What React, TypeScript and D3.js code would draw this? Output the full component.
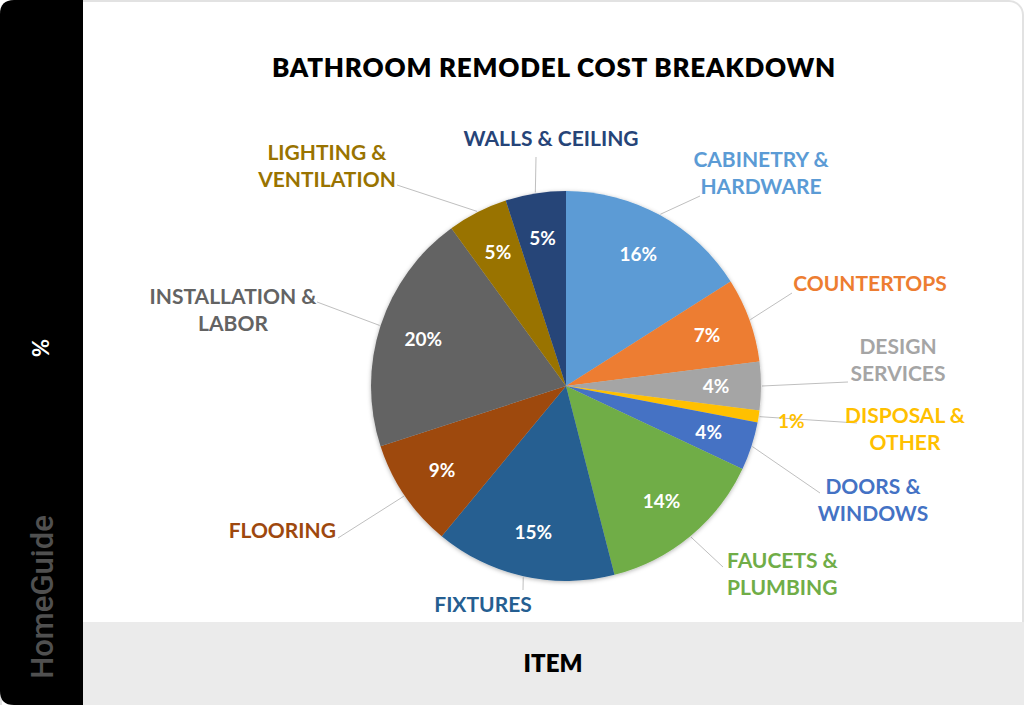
import React from 'react'
import * as d3 from 'd3'

// Chart data
const categories = [
  'CABINETRY &\nHARDWARE',
  'COUNTERTOPS',
  'DESIGN\nSERVICES',
  'DISPOSAL &\nOTHER',
  'DOORS &\nWINDOWS',
  'FAUCETS &\nPLUMBING',
  'FIXTURES',
  'FLOORING',
  'INSTALLATION &\nLABOR',
  'LIGHTING &\nVENTILATION',
  'WALLS & CEILING'
]
const shares = [16, 7, 4, 1, 4, 14, 15, 9, 20, 5, 5]
const colors = [
  '#5B9BD5', '#ED7D31', '#A5A5A5', '#FFC000', '#4472C4', '#70AD47',
  '#255E91', '#9E480E', '#636363', '#997300', '#264478'
]

// Label layout: text anchor point (first baseline), leader end
const labelLayout = [
  { x: 761, y: 167, anchor: 'middle', end: [700, 196] },
  { x: 870, y: 291, anchor: 'middle', end: [792, 293] },
  { x: 898, y: 354, anchor: 'middle', end: [848, 382] },
  { x: 905, y: 423, anchor: 'middle', end: [857, 423] },
  { x: 873, y: 494, anchor: 'middle', end: [820, 493] },
  { x: 727, y: 568, anchor: 'start', end: [723, 567] },
  { x: 483, y: 612, anchor: 'middle', end: [523, 590] },
  { x: 336, y: 538, anchor: 'end', end: [338, 538] },
  { x: 233, y: 304, anchor: 'middle', end: [317, 302] },
  { x: 327, y: 160, anchor: 'middle', end: [397, 185] },
  { x: 551, y: 146, anchor: 'middle', end: [536, 157] }
]

const W = 1024
const H = 705
const cx = 566
const cy = 386
const R = 195
const FONT = 'Lato, "Noto Sans", sans-serif'

export default function App() {
  const pie = d3.pie<number>().sort(null).value(d => d)
  const arcs = pie(shares)
  const arc = d3.arc<d3.PieArcDatum<number>>().innerRadius(0).outerRadius(R)
  const edgeArc = d3.arc<d3.PieArcDatum<number>>().innerRadius(R + 1).outerRadius(R + 1)
  const innerLabelArc = d3.arc<d3.PieArcDatum<number>>().innerRadius(150).outerRadius(150)
  const outerLabelArc = d3.arc<d3.PieArcDatum<number>>().innerRadius(228).outerRadius(228)

  return (
    <svg
      width={W}
      height={H}
      style={{ position: 'absolute', left: 0, top: 0, fontFamily: FONT }}
    >
      <defs>
        <filter id="pieShadow" x="-10%" y="-10%" width="120%" height="120%">
          <feDropShadow dx="0" dy="1" stdDeviation="2" floodColor="#000" floodOpacity="0.3" />
        </filter>
      </defs>

      {/* card */}
      <rect x={0} y={0} width={W} height={H} fill="#ffffff" />
      <rect x={1} y={1} width={W - 2} height={H + 20} rx={14} fill="#ffffff" stroke="#e2e2e2" strokeWidth={2} />
      <rect x={83} y={622} width={W - 83} height={H - 622} fill="#ebebeb" />
      <path d={`M83,0 H14 Q0,0 0,14 V${H - 14} Q0,${H} 14,${H} H83 Z`} fill="#000000" />

      <text
        transform="translate(49,348) rotate(-90)"
        textAnchor="middle"
        fill="#ffffff"
        fontSize={22}
        fontWeight={700}
      >
        %
      </text>
      <text
        transform="translate(53,597) rotate(-90)"
        textAnchor="middle"
        fill="#505050"
        fontSize={31}
        fontWeight={500}
        fontFamily='Roboto, "DejaVu Sans", sans-serif'
      >
        HomeGuide
      </text>

      {/* title */}
      <text
        x={554}
        y={77}
        textAnchor="middle"
        fontSize={26}
        fontWeight={800}
        letterSpacing={0.8}
        fill="#000000"
      >
        BATHROOM REMODEL COST BREAKDOWN
      </text>

      {/* axis title */}
      <text x={553} y={672} textAnchor="middle" fontSize={24} fontWeight={800} fill="#000000">
        ITEM
      </text>

      {/* leader lines */}
      <g stroke="#bfbfbf" strokeWidth={1} fill="none">
        {arcs.map((a, i) => {
          const [sx, sy] = edgeArc.centroid(a)
          const [ex, ey] = labelLayout[i].end
          return <line key={i} x1={cx + sx} y1={cy + sy} x2={ex} y2={ey} />
        })}
      </g>

      {/* slices */}
      <g transform={`translate(${cx},${cy})`} filter="url(#pieShadow)">
        {arcs.map((a, i) => (
          <path key={i} d={arc(a) || ''} fill={colors[i]} />
        ))}
      </g>

      {/* percent labels */}
      <g transform={`translate(${cx},${cy})`} fontSize={19} fontWeight={700} textAnchor="middle">
        {arcs.map((a, i) => {
          const outside = shares[i] < 2
          const [lx, ly] = outside ? outerLabelArc.centroid(a) : innerLabelArc.centroid(a)
          return (
            <text key={i} x={lx} y={ly} dy="0.35em" fill={outside ? colors[i] : '#ffffff'}>
              {shares[i]}%
            </text>
          )
        })}
      </g>

      {/* category labels */}
      <g fontSize={21} fontWeight={700}>
        {categories.map((c, i) => {
          const l = labelLayout[i]
          return (
            <text key={i} x={l.x} y={l.y} textAnchor={l.anchor} fill={colors[i]}>
              {c.split('\n').map((line, j) => (
                <tspan key={j} x={l.x} dy={j === 0 ? 0 : 27}>
                  {line}
                </tspan>
              ))}
            </text>
          )
        })}
      </g>
    </svg>
  )
}
